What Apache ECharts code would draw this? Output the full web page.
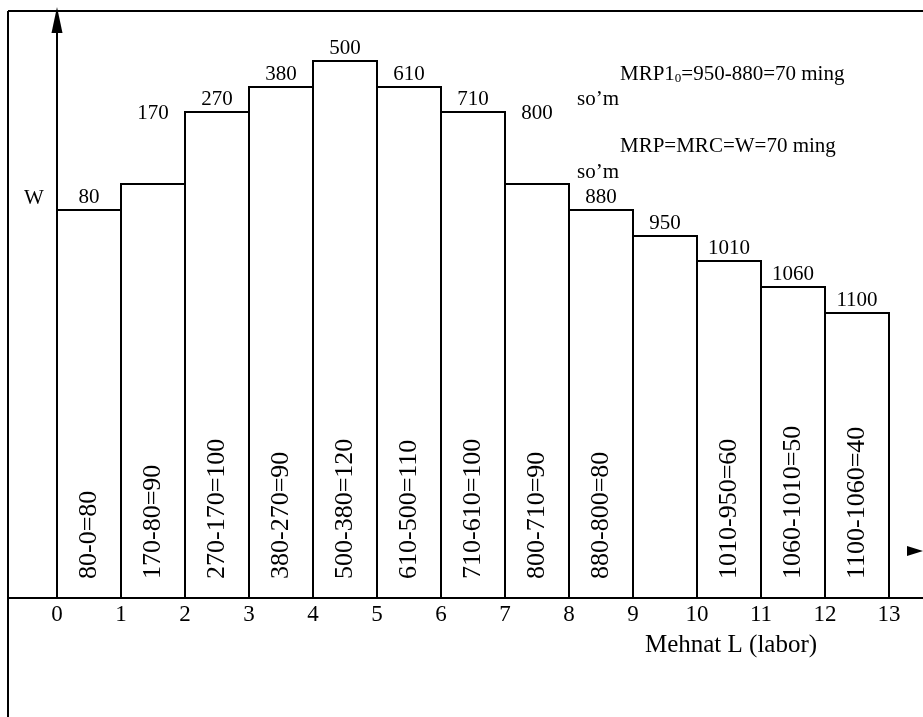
<!DOCTYPE html>
<html>
<head>
<meta charset="utf-8">
<script src="https://cdn.jsdelivr.net/npm/echarts@6.0.0/dist/echarts.min.js"></script>
<style>
  html, body { margin: 0; padding: 0; background: #fff; }
  #chart { width: 923px; height: 717px; }
</style>
</head>
<body>
<div id="chart"></div>
<script>
// ---- data ----
const laborTicks = [0,1,2,3,4,5,6,7,8,9,10,11,12,13];
const totalProduct = [80,170,270,380,500,610,710,800,880,950,1010,1060,1100];
const mrpLabels = ['80-0=80','170-80=90','270-170=100','380-270=90','500-380=120','610-500=110',
                   '710-610=100','800-710=90','880-800=80','','1010-950=60','1060-1010=50','1100-1060=40'];
// relative step heights of the drawn bars (arbitrary units, as drawn)
const barLevels = [388,414,486,511,537,511,486,414,388,362,337,311,285];
const noteLine1 = ['MRP1', '0', '=950-880=70 ming'];
const noteLine2 = 'MRP=MRC=W=70 ming';
const noteUnit = 'so\u2019m';
const axisTitle = 'Mehnat L (labor)';
const yTitle = 'W';

// ---- chart ----
const FF = '"Liberation Serif", "Times New Roman", serif';
const chart = echarts.init(document.getElementById('chart'), null, {renderer: 'canvas'});
const labelLift = {1: 58, 7: 58};

const option = {
  animation: false,
  backgroundColor: '#fff',
  grid: { left: 57, right: 34, top: 20, bottom: 119, containLabel: false },
  xAxis: {
    type: 'value', min: 0, max: 13, interval: 1,
    axisLine: { show: false },
    axisTick: { show: false },
    splitLine: { show: false },
    axisLabel: { color: '#000', fontSize: 23, fontFamily: FF, margin: 5,
                 formatter: v => laborTicks.includes(v) ? String(v) : '' }
  },
  yAxis: {
    type: 'value', min: 0, max: 578,
    axisLine: { show: true, symbol: ['none', 'triangle'], symbolSize: [11, 26],
                lineStyle: { color: '#000', width: 2 } },
    axisTick: { show: false },
    axisLabel: { show: false },
    splitLine: { show: false }
  },
  series: [{
    type: 'custom',
    data: barLevels.map((v, i) => [i, v]),
    encode: { x: 0, y: 1 },
    clip: false,
    z: 3,
    renderItem: function (params, api) {
      const idx = params.dataIndex;
      const i = api.value(0), v = api.value(1);
      const p0 = api.coord([i, v]);
      const p1 = api.coord([i + 1, 0]);
      const cx = (p0[0] + p1[0]) / 2;
      const children = [{
        type: 'rect',
        shape: { x: p0[0], y: p0[1], width: p1[0] - p0[0], height: p1[1] - p0[1] },
        style: { fill: '#fff', stroke: '#000', lineWidth: 2 }
      }, {
        type: 'text',
        x: cx, y: p0[1] - 2 - (labelLift[idx] || 0),
        style: { text: String(totalProduct[idx]), fill: '#000', fontSize: 21, fontFamily: FF,
                 align: 'center', verticalAlign: 'bottom', textAlign: 'center', textVerticalAlign: 'bottom' }
      }];
      if (mrpLabels[idx]) {
        children.push({
          type: 'text',
          x: cx, y: p1[1] - 19, rotation: Math.PI / 2,
          style: { text: mrpLabels[idx], fill: '#000', fontSize: 26, fontFamily: FF,
                   align: 'left', verticalAlign: 'middle', textAlign: 'left', textVerticalAlign: 'middle' }
        });
      }
      return { type: 'group', children: children };
    }
  }],
  graphic: [
    { type: 'line', shape: { x1: 8, y1: 11, x2: 8, y2: 717 }, style: { stroke: '#000', lineWidth: 2 }, z: 10 },
    { type: 'line', shape: { x1: 8, y1: 11, x2: 923, y2: 11 }, style: { stroke: '#000', lineWidth: 2 }, z: 10 },
    { type: 'line', shape: { x1: 8, y1: 598, x2: 923, y2: 598 }, style: { stroke: '#000', lineWidth: 2 }, z: 10 },
    { type: 'polygon', shape: { points: [[907, 546], [923, 551], [907, 556]] }, style: { fill: '#000' }, z: 10 },
    { type: 'text', x: 34, y: 198, z: 10,
      style: { text: yTitle, fill: '#000', fontSize: 21, fontFamily: FF,
               align: 'center', verticalAlign: 'middle', textAlign: 'center', textVerticalAlign: 'middle' } },
    { type: 'text', x: 731, y: 645, z: 10,
      style: { text: axisTitle, fill: '#000', fontSize: 25, fontFamily: FF,
               align: 'center', verticalAlign: 'middle', textAlign: 'center', textVerticalAlign: 'middle' } },
    { type: 'text', x: 620, y: 74, z: 10,
      style: { text: '{a|' + noteLine1[0] + '}{s|' + noteLine1[1] + '}{a|' + noteLine1[2] + '}',
               fill: '#000', fontSize: 21, fontFamily: FF,
               align: 'left', verticalAlign: 'middle', textAlign: 'left', textVerticalAlign: 'middle',
               rich: { a: { fontSize: 21, fontFamily: FF, fill: '#000', lineHeight: 22 },
                       s: { fontSize: 13, fontFamily: FF, fill: '#000', lineHeight: 13, verticalAlign: 'bottom' } } } },
    { type: 'text', x: 577, y: 99, z: 10,
      style: { text: noteUnit, fill: '#000', fontSize: 21, fontFamily: FF,
               align: 'left', verticalAlign: 'middle', textAlign: 'left', textVerticalAlign: 'middle' } },
    { type: 'text', x: 620, y: 146, z: 10,
      style: { text: noteLine2, fill: '#000', fontSize: 21, fontFamily: FF,
               align: 'left', verticalAlign: 'middle', textAlign: 'left', textVerticalAlign: 'middle' } },
    { type: 'text', x: 577, y: 172, z: 10,
      style: { text: noteUnit, fill: '#000', fontSize: 21, fontFamily: FF,
               align: 'left', verticalAlign: 'middle', textAlign: 'left', textVerticalAlign: 'middle' } }
  ]
};
chart.setOption(option);
</script>
</body>
</html>
